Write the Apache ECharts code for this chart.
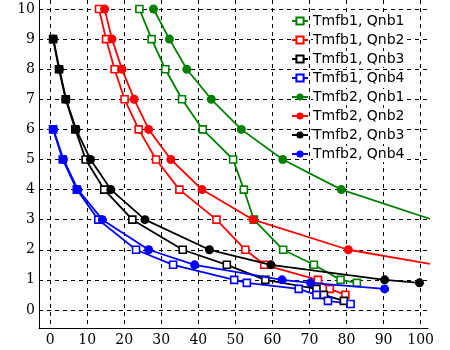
<!DOCTYPE html>
<html>
<head>
<meta charset="utf-8">
<script src="https://cdn.jsdelivr.net/npm/echarts@6/dist/echarts.min.js"></script>
<style>html,body{margin:0;padding:0;background:#fff}#c{width:450px;height:350px}</style>
</head>
<body>
<div id="c"></div>
<script>
var seriesNames = ['Tmfb1, Qnb1','Tmfb1, Qnb2','Tmfb1, Qnb3','Tmfb1, Qnb4','Tmfb2, Qnb1','Tmfb2, Qnb2','Tmfb2, Qnb3','Tmfb2, Qnb4'];
var seriesColors = ['#008000','#ff0000','#000000','#0000ff','#008000','#ff0000','#000000','#0000ff'];
var xTicks = [0,10,20,30,40,50,60,70,80,90,100];
var yTicks = [0,1,2,3,4,5,6,7,8,9,10];

var t1q1X = [24.1, 27.4, 31.1, 35.6, 41.2, 49.4, 52.3, 55.0, 62.9, 71.2, 78.4, 82.8];
var t1q1Y = [10, 9, 8, 7, 6, 5, 4, 3, 2, 1.5, 1.0, 0.9];
var t1q2X = [13.2, 15.1, 17.4, 20.1, 23.9, 28.6, 34.9, 44.9, 52.7, 57.8, 72.3, 75.5, 79.7];
var t1q2Y = [10, 9, 8, 7, 6, 5, 4, 3, 2, 1.5, 1.0, 0.7, 0.5];
var t1q3X = [0.8, 2.4, 4.2, 6.8, 9.6, 14.6, 22.2, 35.8, 47.7, 58.1, 71.9, 73.9, 79.3];
var t1q3Y = [9, 8, 7, 6, 5, 4, 3, 2, 1.5, 1.0, 0.7, 0.5, 0.3];
var t1q4X = [0.8, 3.4, 7.2, 13.0, 23.2, 33.2, 49.7, 53.1, 67.1, 71.9, 75.0, 81.1];
var t1q4Y = [6, 5, 4, 3, 2, 1.5, 1.0, 0.9, 0.7, 0.5, 0.3, 0.2];
var t2q1X = [27.9, 32.2, 36.9, 43.5, 51.6, 62.8, 78.6, 103.2];
var t2q1Y = [10, 9, 8, 7, 6, 5, 4, 3];
var t2q2X = [14.7, 16.7, 19.4, 22.7, 26.6, 32.6, 41.0, 54.8, 80.5, 125];
var t2q2Y = [10, 9, 8, 7, 6, 5, 4, 3, 2, 1.05];
var t2q3X = [0.9, 2.5, 4.3, 7.0, 10.9, 16.4, 25.6, 43.0, 59.6, 90.3, 99.7];
var t2q3Y = [9, 8, 7, 6, 5, 4, 3, 2, 1.5, 1.0, 0.9];
var t2q4X = [0.9, 3.6, 7.5, 14.1, 26.6, 39.0, 62.6, 70.3, 90.3];
var t2q4Y = [6, 5, 4, 3, 2, 1.5, 1.0, 0.9, 0.7];

var allX = [t1q1X, t1q2X, t1q3X, t1q4X, t2q1X, t2q2X, t2q3X, t2q4X];
var allY = [t1q1Y, t1q2Y, t1q3Y, t1q4Y, t2q1Y, t2q2Y, t2q3Y, t2q4Y];

function pairs(xs, ys){ return xs.map(function(x,i){ return [x, ys[i]]; }); }

var series = seriesNames.map(function(name, i){
  var open = i < 4;
  return {
    name: name,
    type: 'line',
    data: pairs(allX[i], allY[i]),
    symbol: open ? 'rect' : 'circle',
    symbolSize: open ? 7 : 9,
    showAllSymbol: true,
    clip: true,
    z: open ? 2 : 3,
    lineStyle: { color: seriesColors[i], width: 1.8 },
    itemStyle: open ? { color: '#ffffff', borderColor: seriesColors[i], borderWidth: 1.6 }
                    : { color: seriesColors[i], borderColor: seriesColors[i], borderWidth: 0 },
    emphasis: { disabled: true },
    animation: false
  };
});

var chart = echarts.init(document.getElementById('c'), null, { renderer: 'canvas' });
chart.setOption({
  animation: false,
  backgroundColor: '#ffffff',
  grid: { left: 39, right: 22, top: 0, bottom: 22, containLabel: false },
  legend: {
    orient: 'vertical',
    left: 286,
    top: 8,
    itemWidth: 16,
    itemHeight: 9,
    itemGap: 3,
    data: seriesNames,
    textStyle: { fontFamily: 'DejaVu Sans', fontSize: 14, color: '#000', lineHeight: 16, padding: [0,0,0,0], backgroundColor: '#ffffff' }
  },
  xAxis: {
    type: 'value', min: -3, max: 102,
    axisLine: { show: true, onZero: false, lineStyle: { color: '#000', width: 1 } },
    axisTick: { show: false, customValues: xTicks },
    axisLabel: { customValues: xTicks, color: '#000', fontFamily: 'DejaVu Serif', fontSize: 14, margin: 5 },
    splitLine: { show: true, lineStyle: { color: '#000', type: [4,4], width: 1 } }
  },
  yAxis: {
    type: 'value', min: -0.6, max: 10.3,
    axisLine: { show: true, onZero: false, lineStyle: { color: '#000', width: 1 } },
    axisTick: { show: false, customValues: yTicks },
    axisLabel: { customValues: yTicks, color: '#000', fontFamily: 'DejaVu Serif', fontSize: 14, margin: 4 },
    splitLine: { show: true, lineStyle: { color: '#000', type: [4,4], width: 1 } }
  },
  series: series
});
</script>
</body>
</html>
